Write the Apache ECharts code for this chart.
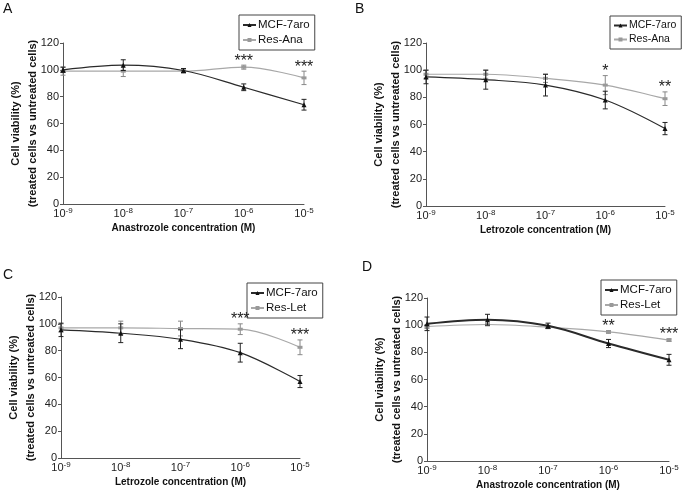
<!DOCTYPE html>
<html><head><meta charset="utf-8">
<script src="https://cdn.jsdelivr.net/npm/echarts@6/dist/echarts.min.js"></script>
<style>html,body{margin:0;padding:0;background:#fff}#c{width:685px;height:492px}</style>
</head><body><div id="c"></div>
<script>
// ---- data ----
const xExponents = ['-9', '-8', '-7', '-6', '-5'];
const yTicks = [0, 20, 40, 60, 80, 100, 120];
const panelLetters = ['A', 'B', 'C', 'D'];
const xTitles = ['Anastrozole concentration (M)', 'Letrozole concentration (M)', 'Letrozole concentration (M)', 'Anastrozole concentration (M)'];
const seriesNames = [['MCF-7aro', 'Res-Ana'], ['MCF-7aro', 'Res-Ana'], ['MCF-7aro', 'Res-Let'], ['MCF-7aro', 'Res-Let']];

const mcfA = [100, 103.5, 99.5, 87, 74];
const mcfAErr = [2, 4, 1.5, 2.5, 4];
const resA = [99, 99, 99, 102, 94];
const resAErr = [3, 4, 1.5, 1.5, 5];
const sigA = ['', '', '', '***', '***'];

const mcfB = [95, 93, 89, 78, 57];
const mcfBErr = [5, 7, 8, 6.5, 4.5];
const resB = [97, 97, 94, 89, 79];
const resBErr = [3, 3, 3, 7, 5];
const sigB = ['', '', '', '*', '**'];

const mcfC = [95.5, 93, 88.5, 78.5, 57];
const mcfCErr = [5, 7, 7, 7, 4.5];
const resC = [97, 97, 96.5, 96, 82.5];
const resCErr = [3, 5, 5.5, 4, 5.5];
const sigC = ['', '', '', '***', '***'];

const mcfD = [101, 104, 99.5, 86.5, 74.5];
const mcfDErr = [5, 4, 2, 3, 4];
const resD = [99, 100.5, 98.5, 95, 89];
const resDErr = [1.5, 1, 1, 1, 1];
const sigD = ['', '', '', '**', '***'];

// ---- layout / style ----
const FONT = '"Liberation Sans", Arial, sans-serif';
const grids = [
  {left: 63, top: 43, width: 241, height: 161},
  {left: 426, top: 43, width: 239, height: 163},
  {left: 61, top: 297, width: 239, height: 161},
  {left: 427, top: 298, width: 242, height: 163}
];
const legendPos = [{left: 239, top: 15}, {left: 610, top: 16}, {left: 247, top: 283}, {left: 601, top: 280}];
const legendFont = [11.5, 10.5, 11.5, 11.5];
const letterPos = [[3, 2], [355, 2], [3, 268], [362, 260]];
const panels = [
  {mcf: mcfA, mcfErr: mcfAErr, res: resA, resErr: resAErr, sig: sigA, mcfW: 1.2},
  {mcf: mcfB, mcfErr: mcfBErr, res: resB, resErr: resBErr, sig: sigB, mcfW: 1.2},
  {mcf: mcfC, mcfErr: mcfCErr, res: resC, resErr: resCErr, sig: sigC, mcfW: 1.2},
  {mcf: mcfD, mcfErr: mcfDErr, res: resD, resErr: resDErr, sig: sigD, mcfW: 2}
];
const DARK = '#2a2a2a', LIGHT = '#a8a8a8';

function errRender(color) {
  return function (params, api) {
    const x = api.value(0), lo = api.value(1), hi = api.value(2);
    const p1 = api.coord([x, hi]), p2 = api.coord([x, lo]);
    const w = 2.5, st = {stroke: color, lineWidth: 1};
    return {type: 'group', children: [
      {type: 'line', shape: {x1: p1[0], y1: p1[1], x2: p2[0], y2: p2[1]}, style: st},
      {type: 'line', shape: {x1: p1[0] - w, y1: p1[1], x2: p1[0] + w, y2: p1[1]}, style: st},
      {type: 'line', shape: {x1: p2[0] - w, y1: p2[1], x2: p2[0] + w, y2: p2[1]}, style: st}
    ]};
  };
}
function sigRender(params, api) {
  const p = api.coord([api.value(0), api.value(1)]);
  return {type: 'text', x: p[0], y: p[1] + 4,
    style: {text: api.value(2), align: 'center', verticalAlign: 'bottom', fill: '#222', font: '16px ' + FONT}};
}

const option = {
  backgroundColor: '#fff',
  animation: false,
  textStyle: {fontFamily: FONT},
  grid: grids,
  xAxis: [], yAxis: [], legend: [], series: [],
  graphic: panelLetters.map((t, i) => ({type: 'text', left: letterPos[i][0], top: letterPos[i][1],
    style: {text: t, font: '14px ' + FONT, fill: '#111'}}))
};

panels.forEach((p, i) => {
  option.xAxis.push({
    gridIndex: i, type: 'category', boundaryGap: false,
    data: xExponents.map(e => '{b|10}{s|' + e + '}'),
    axisLine: {lineStyle: {color: '#555', width: 1}},
    axisTick: {show: false},
    axisLabel: {margin: 3, interval: 0, color: '#222',
      rich: {b: {fontSize: 11, fontFamily: FONT, color: '#222', lineHeight: 14},
             s: {fontSize: 8, fontFamily: FONT, color: '#222', verticalAlign: 'top', lineHeight: 14}}},
    name: xTitles[i], nameLocation: 'middle', nameGap: 19, nameMoveOverlap: false,
    nameTextStyle: {fontSize: 10, fontWeight: 'bold', color: '#111', fontFamily: FONT}
  });
  option.yAxis.push({
    gridIndex: i, type: 'value', min: yTicks[0], max: yTicks[yTicks.length - 1], interval: 20,
    axisLine: {show: true, lineStyle: {color: '#555', width: 1}},
    axisTick: {show: true, length: 3, lineStyle: {color: '#555'}},
    splitLine: {show: false},
    axisLabel: {margin: 4, fontSize: 11, color: '#222'},
    name: 'Cell viability (%)\n(treated cells vs untreated cells)',
    nameLocation: 'middle', nameGap: 22, nameRotate: 90, nameMoveOverlap: false,
    nameTextStyle: {fontSize: 11, fontWeight: 'bold', color: '#111', lineHeight: 17, fontFamily: FONT}
  });
  option.legend.push({
    left: legendPos[i].left, top: legendPos[i].top, orient: 'vertical',
    data: seriesNames[i].map(n => ({name: n})),
    borderColor: '#444', borderWidth: 1, borderRadius: 0, padding: [4, 5, 4, 3],
    itemGap: 3, itemWidth: 13, itemHeight: 5,
    textStyle: {fontSize: legendFont[i], color: '#111', fontFamily: FONT, padding: [0, 0, 0, -3]},
    selectedMode: false
  });
  option.series.push({
    type: 'custom', name: 'resErr' + i, xAxisIndex: i, yAxisIndex: i, silent: true, z: 1,
    renderItem: errRender('#888'),
    data: p.res.map((v, k) => [k, v - p.resErr[k], v + p.resErr[k]]),
    encode: {x: 0, y: [1, 2]}
  });
  option.series.push({
    type: 'line', name: seriesNames[i][1], xAxisIndex: i, yAxisIndex: i, data: p.res, smooth: 0.35,
    symbol: 'rect', symbolSize: [5, 3], z: 2,
    lineStyle: {color: LIGHT, width: 1.2}, itemStyle: {color: '#999'}
  });
  option.series.push({
    type: 'custom', name: 'mcfErr' + i, xAxisIndex: i, yAxisIndex: i, silent: true, z: 3,
    renderItem: errRender('#222'),
    data: p.mcf.map((v, k) => [k, v - p.mcfErr[k], v + p.mcfErr[k]]),
    encode: {x: 0, y: [1, 2]}
  });
  option.series.push({
    type: 'line', name: seriesNames[i][0], xAxisIndex: i, yAxisIndex: i, data: p.mcf, smooth: 0.35,
    symbol: 'triangle', symbolSize: 5, z: 4,
    lineStyle: {color: DARK, width: p.mcfW}, itemStyle: {color: '#111'}
  });
  option.series.push({
    type: 'custom', name: 'sig' + i, xAxisIndex: i, yAxisIndex: i, silent: true, z: 5,
    renderItem: sigRender,
    data: p.sig.map((s, k) => [k, Math.max(p.mcf[k] + p.mcfErr[k], p.res[k] + p.resErr[k]), s]).filter(d => d[2]),
    encode: {x: 0, y: 1}
  });
});

const chart = echarts.init(document.getElementById('c'), null, {renderer: 'canvas'});
chart.setOption(option);
</script>
</body></html>
